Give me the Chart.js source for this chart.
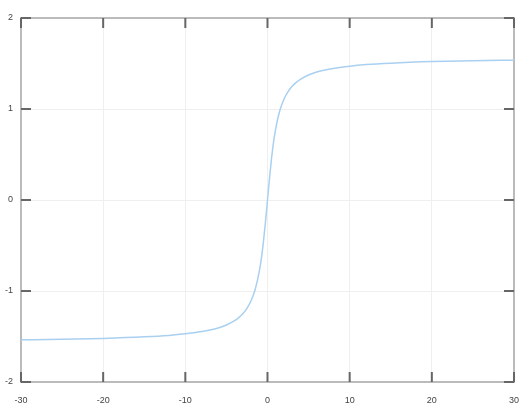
<!DOCTYPE html>
<html>
<head>
<meta charset="utf-8">
<script src="https://cdn.jsdelivr.net/npm/chart.js@4/dist/chart.umd.min.js"></script>
<style>
    html, body { margin: 0; padding: 0; background: #fff; }
    #wrap { width: 532px; height: 415px; }
</style>
</head>
<body>
<div id="wrap"><canvas id="curveChart"></canvas></div>
<script>
/* 1. 데이터 */
const xValues = [-30, -25, -20, -15, -12, -10, -8, -7, -6, -5, -4, -3.5, -3, -2.5, -2, -1.5, -1, -0.75, -0.5, -0.25, 0,
                 0.25, 0.5, 0.75, 1, 1.5, 2, 2.5, 3, 3.5, 4, 5, 6, 7, 8, 10, 12, 15, 20, 25, 30];
const yValues = [-1.537, -1.531, -1.521, -1.504, -1.488, -1.471, -1.446, -1.429, -1.406, -1.373, -1.326, -1.292, -1.249, -1.190, -1.107, -0.983, -0.785, -0.644, -0.464, -0.245, 0,
                 0.245, 0.464, 0.644, 0.785, 0.983, 1.107, 1.190, 1.249, 1.292, 1.326, 1.373, 1.406, 1.429, 1.446, 1.471, 1.488, 1.504, 1.521, 1.531, 1.537];
const xTicks = [-30, -20, -10, 0, 10, 20, 30];
const yTicks = [-2, -1, 0, 1, 2];

const points = xValues.map((x, i) => ({ x: x, y: yValues[i] }));

/* 2. 안쪽으로 들어가는 눈금 표시 플러그인 */
const innerTicks = {
    id: 'innerTicks',
    afterDatasetsDraw(chart) {
        const { ctx, chartArea: a, scales } = chart;
        const len = 10;
        ctx.save();
        ctx.strokeStyle = '#666';
        ctx.lineWidth = 2;
        ctx.beginPath();
        xTicks.forEach(v => {
            const px = scales.x.getPixelForValue(v);
            ctx.moveTo(px, a.bottom); ctx.lineTo(px, a.bottom - len);
            ctx.moveTo(px, a.top); ctx.lineTo(px, a.top + len);
        });
        yTicks.forEach(v => {
            const py = scales.y.getPixelForValue(v);
            ctx.moveTo(a.left, py); ctx.lineTo(a.left + len, py);
            ctx.moveTo(a.right, py); ctx.lineTo(a.right - len, py);
        });
        ctx.stroke();
        ctx.restore();
    }
};

const tickFont = { family: 'Liberation Sans', size: 9 };

new Chart(document.getElementById('curveChart'), {
    type: 'scatter',
    data: {
        datasets: [{
            data: points,
            showLine: true,
            borderColor: '#a9d0f0',
            borderWidth: 1.5,
            pointRadius: 0,
            cubicInterpolationMode: 'monotone',
            fill: false
        }]
    },
    options: {
        responsive: true,
        maintainAspectRatio: false,
        animation: false,
        layout: { padding: 0 },
        plugins: { legend: { display: false }, tooltip: { enabled: false } },
        scales: {
            x: {
                type: 'linear', min: -30, max: 30,
                afterBuildTicks: s => { s.ticks = xTicks.map(v => ({ value: v })); },
                afterFit: s => { s.height = 33; },
                grid: { color: '#efefef', lineWidth: 1, drawTicks: false },
                border: { color: '#bbb', width: 2 },
                ticks: { color: '#444', font: tickFont, padding: 13, maxRotation: 0 }
            },
            x2: {
                type: 'linear', position: 'top', min: -30, max: 30,
                afterFit: s => { s.height = 18; },
                grid: { display: false, drawTicks: false },
                border: { color: '#bbb', width: 2 },
                ticks: { display: false }
            },
            y: {
                type: 'linear', min: -2, max: 2,
                afterBuildTicks: s => { s.ticks = yTicks.map(v => ({ value: v })); },
                afterFit: s => { s.width = 21; },
                grid: { color: '#efefef', lineWidth: 1, drawTicks: false },
                border: { color: '#bbb', width: 2 },
                ticks: { color: '#444', font: tickFont, padding: 8 }
            },
            y2: {
                type: 'linear', position: 'right', min: -2, max: 2,
                afterFit: s => { s.width = 15; },
                grid: { display: false, drawTicks: false },
                border: { color: '#bbb', width: 2 },
                ticks: { display: false }
            }
        }
    },
    plugins: [innerTicks]
});
</script>
</body>
</html>
